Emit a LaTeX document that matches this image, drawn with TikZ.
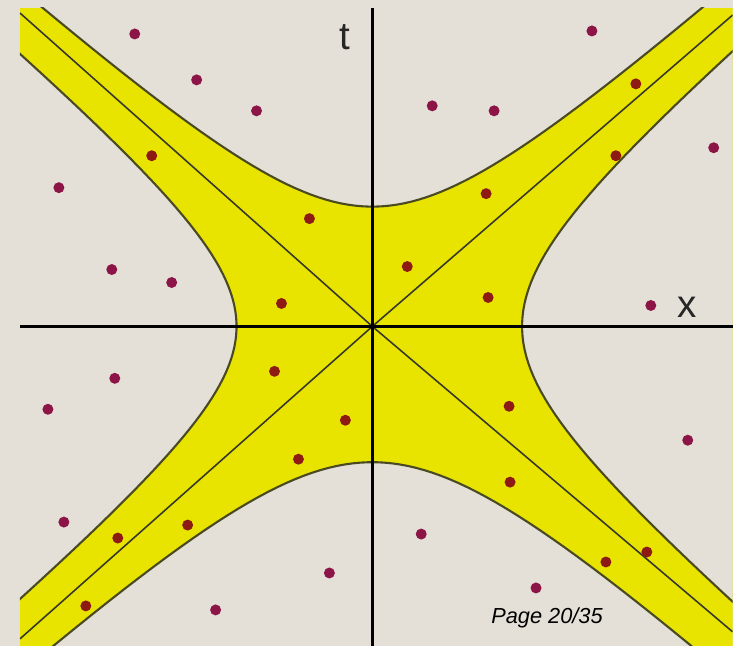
\documentclass[tikz,border=0pt]{standalone}
\usepackage{fontspec}
\setmainfont{Liberation Sans}
\usepackage{xcolor}
\usepackage{tikz}
\usetikzlibrary{positioning, calc}

\begin{document}
\begin{tikzpicture}
% --- CORES HEX ---
\definecolor{fundo}{HTML}{E4E0D7}
\definecolor{amarelo}{HTML}{E8E400}
\definecolor{contorno}{HTML}{4A4A22}
\definecolor{cone}{HTML}{38382A}
\definecolor{pontofora}{HTML}{8C1446}
\definecolor{pontodentro}{HTML}{8E1A14}
\tikzset{
  ramo/.style={draw=contorno, line width=0.6pt, fill=fundo},
  eixo/.style={black, line width=0.75pt},
  luz/.style={cone, line width=0.45pt},
  rotulo/.style={font=\fontsize{11pt}{13pt}\selectfont, text=black!85, inner sep=1pt},
}

% LAYER 0: Fundo (fixa o tamanho da figura)
\fill[fundo] (-3.73,-3.20) rectangle (3.61,3.27);

\begin{scope}
\clip (-3.53,-3.20) rectangle (3.61,3.19);
% LAYER 1: Regiao amarela entre as hiperboles
\fill[amarelo] (-3.53,-3.20) rectangle (3.61,3.19);
\draw[ramo] plot[domain=-1.8:1.8, samples=70] ({-1.36*cosh(\x)}, {1.14*sinh(\x)}) -- (-5,3.4) -- (-5,-3.4) -- cycle; % ramo esquerdo
\draw[ramo] plot[domain=-1.8:1.8, samples=70] ({1.50*cosh(\x)}, {1.26*sinh(\x)}) -- (5,3.8) -- (5,-3.8) -- cycle; % ramo direito
\draw[ramo] plot[domain=-1.8:1.8, samples=70] ({1.34*sinh(\x)}, {1.20*cosh(\x)}) -- (4,5) -- (-4,5) -- cycle; % ramo superior
\draw[ramo] plot[domain=-1.8:1.8, samples=70] ({1.50*sinh(\x)}, {-1.36*cosh(\x)}) -- (4.5,-5) -- (-4.5,-5) -- cycle; % ramo inferior

% LAYER 2: Cone de luz
\coordinate (origem) at (0,0);
\coordinate (futuroE) at (-3.53,3.14);
\coordinate (futuroD) at (3.61,3.12);
\coordinate (passadoE) at (-3.53,-3.13);
\coordinate (passadoD) at (3.61,-3.06);
\draw[luz] (passadoE) -- (origem) -- (futuroD);
\draw[luz] (futuroE) -- (origem) -- (passadoD);
\end{scope}

% LAYER 3: Eixos
\draw[eixo] (-3.53,0) -- (3.61,0);
\draw[eixo] (0,-3.20) -- (0,3.19);
\node[rotulo] (rotulot) at (-0.28,2.90) {t};
\node[rotulo] (rotulox) at (3.15,0.19) {x};

% LAYER 4: Eventos
\foreach \px/\py in {-2.38/2.93, -1.76/2.47, -1.16/2.16, -3.14/1.39, -2.61/0.57, -2.01/0.44,
    2.20/2.96, 0.60/2.21, 1.22/2.16, 3.42/1.79, 2.79/0.21, -2.58/-0.52, -3.25/-0.83,
    3.16/-1.14, -3.09/-1.96, 0.49/-2.08, -0.43/-2.47, -1.57/-2.84, 1.64/-2.62}
  \fill[pontofora] (\px,\py) circle (0.055);
\foreach \px/\py in {-2.21/1.71, -0.91/0.23, -0.63/1.08, 2.64/2.43, 2.44/1.71, 1.14/1.33,
    0.35/0.60, 1.16/0.29, -0.98/-0.45, -0.27/-0.94, -0.74/-1.33, 1.37/-0.80, 1.38/-1.56,
    -2.55/-2.12, -1.85/-1.99, -2.87/-2.80, 2.34/-2.36, 2.75/-2.26}
  \fill[pontodentro] (\px,\py) circle (0.055);

% rodape
\node[font=\fontsize{6.2pt}{7pt}\selectfont\itshape, inner sep=0pt] (pagina) at (1.75,-2.92) {Page 20/35};
\end{tikzpicture}
\end{document}
